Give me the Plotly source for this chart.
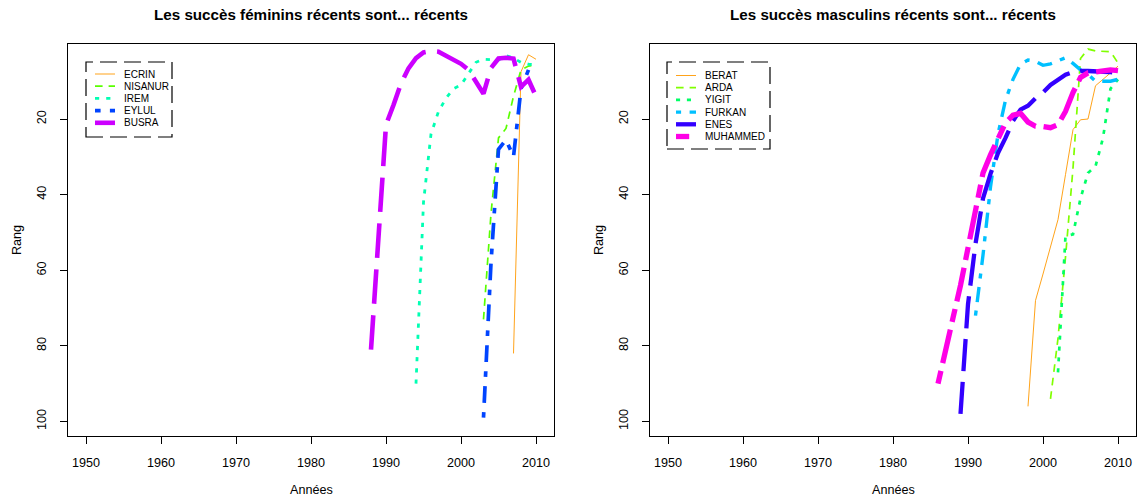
import plotly.graph_objects as go

# ---------------- data ----------------
years_axis_ticks = [1950, 1960, 1970, 1980, 1990, 2000, 2010]
rank_axis_ticks = [20, 40, 60, 80, 100]

# Filles
fem_names = ["ECRIN", "NISANUR", "IREM", "EYLUL", "BUSRA"]
ecrin_years = [2007, 2008, 2009, 2010]
ecrin_rank = [82, 7.5, 3, 4.2]
nisanur_years = [2003, 2004, 2005, 2006, 2007, 2008, 2009, 2010]
nisanur_rank = [73, 45, 25, 22.5, 14, 7, 6, 5.7]
irem_years = list(range(1994, 2011))
irem_rank = [90, 42, 24, 18, 14.5, 12, 11, 8, 5, 4.2, 4.3, 4.4, 3.2, 3.9, 5, 5.5, 5.7]
eylul_years = [2003, 2004, 2005, 2006, 2007, 2008, 2009]
eylul_rank = [99, 58, 28, 25.5, 30, 12, 7]
busra_years = list(range(1988, 2011))
busra_rank = [81, 50, 21.5, 16.3, 10.6, 6.6, 3.9, 2.4, 2.0, 2.2, 3.3, 4.4, 5.4,
              7.0, 10.0, 13.3, 6.5, 4.0, 3.8, 4.0, 11.5, 9.6, 14.0]

# Garçons
masc_names = ["BERAT", "ARDA", "YIGIT", "FURKAN", "ENES", "MUHAMMED"]
berat_years = list(range(1998, 2011))
berat_rank = [96, 68, 61, 54, 46.6, 34.7, 22.8, 20.2, 20, 11.2, 9.6, 7.8, 6]
arda_years = list(range(2001, 2011))
arda_rank = [94, 78, 56.5, 33, 4, 1.5, 2, 2, 2.2, 5.2]
yigit_years = list(range(2002, 2011))
yigit_rank = [87, 51, 50.5, 41, 34.3, 32.5, 25, 12, 9.5]
furkan_years = list(range(1991, 2011))
furkan_rank = [72, 56, 38, 24, 15, 9.5, 5.5, 4.4, 4.7, 5.8, 5.4, 4.6, 3.8, 5.3,
               7, 8.2, 10, 10, 10, 9.5]
enes_years = list(range(1989, 2011))
enes_rank = [98, 69, 53, 41, 34.5, 29, 25, 20.5, 17.5, 16.5, 14.5, 13, 11, 9.6,
             8.3, 7.6, 7.3, 7.3, 7.3, 7.5, 7.6, 7.8]
muhammed_years = list(range(1986, 2011))
muhammed_rank = [90, 80.5, 72.6, 64, 54, 43, 34.3, 29.5, 25, 21, 19, 18.5, 20.8,
                 21.9, 22, 22.3, 21.5, 18, 13, 9, 7.8, 7.5, 7.2, 7, 7.2]

fem_years = [ecrin_years, nisanur_years, irem_years, eylul_years, busra_years]
fem_ranks = [ecrin_rank, nisanur_rank, irem_rank, eylul_rank, busra_rank]
masc_years = [berat_years, arda_years, yigit_years, furkan_years, enes_years, muhammed_years]
masc_ranks = [berat_rank, arda_rank, yigit_rank, furkan_rank, enes_rank, muhammed_rank]

title_fem = "Les succès féminins récents sont... récents"
title_masc = "Les succès masculins récents sont... récents"
xlabel = "Années"
ylabel = "Rang"

# ---------------- styles ----------------
fem_colors = ["#FF9900", "#59FF00", "#00FFB3", "#0044FF", "#CC00FF"]
fem_widths = [0.9, 1.7, 2.8, 3.7, 4.6]
masc_colors = ["#FF9900", "#80FF00", "#00FF66", "#00C0FF", "#3300FF", "#FF00E6"]
masc_widths = [0.9, 1.7, 2.7, 3.4, 4.3, 5.3]
lty_patterns = [None, "44", "13", "1343", "73", "2262"]

FONT = "Liberation Sans, Arial, Helvetica, sans-serif"
W, H = 1144, 499
ML, MR, MT, MB = 68, 8, 44, 63
PW = W - ML - MR
PH = H - MT - MB


def px_x(px):
    return (px - ML) / PW


def px_y(py):
    return (H - MB - py) / PH


def dash_str(pattern, w):
    if pattern is None:
        return "solid"
    parts = []
    for i, c in enumerate(pattern):
        d = int(c, 16) * w
        if i % 2 == 0:
            parts.append(d + 0.5 * w)
        else:
            parts.append(max(d - 0.5 * w, 1.0))
    return ",".join(f"{p:.1f}px" for p in parts)


fig = go.Figure()

panels = [
    (fem_names, fem_years, fem_ranks, fem_colors, fem_widths, "x", "y"),
    (masc_names, masc_years, masc_ranks, masc_colors, masc_widths, "x2", "y2"),
]
for names, yrs, rks, cols, wids, xa, ya in panels:
    for i, name in enumerate(names):
        fig.add_trace(go.Scatter(
            x=yrs[i], y=rks[i], mode="lines", name=name,
            line=dict(color=cols[i], width=wids[i], dash=dash_str(lty_patterns[i], wids[i])),
            xaxis=xa, yaxis=ya, showlegend=False, hoverinfo="x+y+name",
        ))

# plot geometry (pixels)
left_box = (68.0, 554.0)
right_box = (650.0, 1136.0)
dom_left = [max(0.0, px_x(left_box[0])), px_x(left_box[1])]
dom_right = [px_x(right_box[0]), min(1.0, px_x(right_box[1]))]

axis_common_x = dict(
    range=[1947.6, 2012.4], tickvals=years_axis_ticks, ticks="outside", ticklen=7,
    tickcolor="black", tickwidth=1, showline=True, mirror=True, linecolor="black",
    linewidth=1, showgrid=False, zeroline=False, ticklabelstandoff=8,
    tickfont=dict(family=FONT, size=12.6, color="black"),
)
axis_common_y = dict(
    range=[103.84, 0.16], tickvals=rank_axis_ticks, ticks="outside", ticklen=7,
    tickcolor="black", tickwidth=1, showline=True, mirror=True, linecolor="black",
    linewidth=1, showgrid=False, zeroline=False, tickangle=-90, ticklabelstandoff=9,
    tickfont=dict(family=FONT, size=12.6, color="black"),
)
fig.update_layout(
    xaxis=dict(domain=dom_left, anchor="y", **axis_common_x),
    yaxis=dict(domain=[0, 1], anchor="x", **axis_common_y),
    xaxis2=dict(domain=dom_right, anchor="y2", **axis_common_x),
    yaxis2=dict(domain=[0, 1], anchor="x2", **axis_common_y),
)

annotations = []
shapes = []
for (x0, x1), title in [(left_box, title_fem), (right_box, title_masc)]:
    cx = px_x((x0 + x1) / 2)
    annotations.append(dict(text=f"<b>{title}</b>", x=cx, y=px_y(14), xref="paper", yref="paper",
                            xanchor="center", yanchor="middle", showarrow=False,
                            font=dict(family=FONT, size=15.2, color="black")))
    annotations.append(dict(text=xlabel, x=cx, y=px_y(490), xref="paper", yref="paper",
                            xanchor="center", yanchor="middle", showarrow=False,
                            font=dict(family=FONT, size=12.6, color="black")))
    annotations.append(dict(text=ylabel, x=px_x(x0 - 51), y=px_y(240), xref="paper", yref="paper",
                            xanchor="center", yanchor="middle", showarrow=False, textangle=-90,
                            font=dict(family=FONT, size=12.6, color="black")))

# legends (drawn like R's legend box)
legend_specs = [
    (fem_names, fem_colors, fem_widths, (86, 62, 172, 137), 74.0),
    (masc_names, masc_colors, masc_widths, (667, 62, 770, 149), 75.5),
]
row_step = 12.2
for names, cols, wids, (bx0, by0, bx1, by1), first_row in legend_specs:
    shapes.append(dict(type="rect", xref="paper", yref="paper",
                       x0=px_x(bx0), x1=px_x(bx1), y0=px_y(by1), y1=px_y(by0),
                       line=dict(color="black", width=1.2, dash="17px,7px"),
                       fillcolor="rgba(0,0,0,0)"))
    for i, name in enumerate(names):
        ry = first_row + i * row_step
        shapes.append(dict(type="line", xref="paper", yref="paper",
                           x0=px_x(bx0 + 9), x1=px_x(bx0 + 29), y0=px_y(ry), y1=px_y(ry),
                           line=dict(color=cols[i], width=wids[i],
                                     dash=dash_str(lty_patterns[i], wids[i]))))
        annotations.append(dict(text=name, x=px_x(bx0 + 36), y=px_y(ry), xref="paper", yref="paper",
                                xanchor="left", yanchor="middle", showarrow=False,
                                font=dict(family=FONT, size=10, color="black")))

fig.update_layout(
    width=W, height=H,
    margin=dict(l=ML, r=MR, t=MT, b=MB, pad=0),
    paper_bgcolor="white", plot_bgcolor="white",
    annotations=annotations, shapes=shapes,
    font=dict(family=FONT, color="black"),
    showlegend=False,
)

fig.write_html(
    "out.html",
    config={"displayModeBar": False},
    post_script="document.body.style.margin='0';document.body.style.overflow='hidden';",
)
